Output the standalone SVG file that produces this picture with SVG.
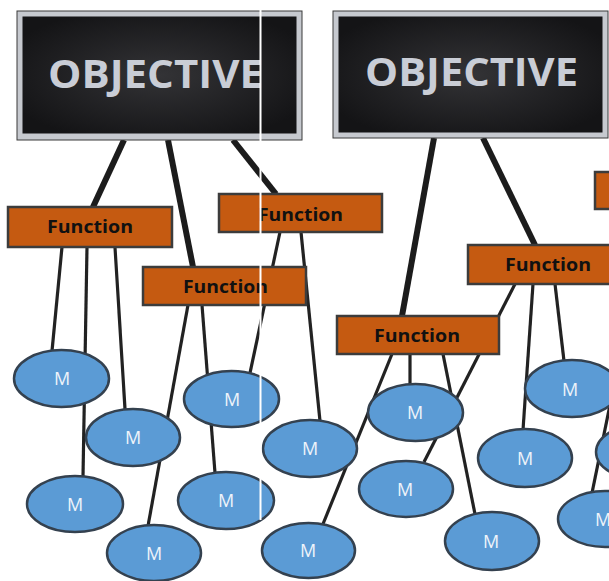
<svg xmlns="http://www.w3.org/2000/svg" width="609" height="581" viewBox="0 0 609 581">
<defs>
<radialGradient id="dark" cx="50%" cy="50%" r="60%">
<stop offset="0" stop-color="#333336"/>
<stop offset="1" stop-color="#141416"/>
</radialGradient>
<style>
.obj-outer{fill:#c6c9cf;stroke:#3a3a3a;stroke-width:1}
.obj-inner{fill:url(#dark)}
.obj-text{font-family:"Open Sans","Liberation Sans",sans-serif;font-weight:700;font-size:39px;fill:#c9cdd6;text-anchor:middle}
.fn{fill:#c55a11;stroke:#3c3c3c;stroke-width:2.5}
.fn-text{font-family:"Open Sans","Liberation Sans",sans-serif;font-weight:700;font-size:17px;fill:#111;text-anchor:middle}
.m{fill:#5b9bd5;stroke:#34414f;stroke-width:2.5}
.m-text{font-family:"Open Sans","Liberation Sans",sans-serif;font-size:18px;fill:#eef3fa;text-anchor:middle}
.thick{stroke:#1c1c1c;stroke-width:6;fill:none;stroke-linecap:butt}
.thin{stroke:#222;stroke-width:3.2;fill:none}
</style>
</defs>
<rect width="609" height="581" fill="#fff"/>
<g id="connectors">
<line class="thick" x1="124" y1="140" x2="93" y2="207"/>
<line class="thick" x1="168" y1="140" x2="193" y2="267"/>
<line class="thick" x1="233" y1="140" x2="276" y2="194"/>
<line class="thick" x1="434" y1="138" x2="402" y2="316"/>
<line class="thick" x1="483" y1="138" x2="535" y2="245"/>
<line class="thin" x1="62" y1="247" x2="52" y2="351"/>
<line class="thin" x1="87" y1="247" x2="83" y2="477"/>
<line class="thin" x1="115" y1="247" x2="125" y2="409"/>
<line class="thin" x1="188" y1="305" x2="148" y2="526"/>
<line class="thin" x1="202" y1="305" x2="215" y2="473"/>
<line class="thin" x1="280" y1="232" x2="250" y2="373"/>
<line class="thin" x1="301" y1="232" x2="320" y2="421"/>
<line class="thin" x1="392" y1="354" x2="323" y2="524"/>
<line class="thin" x1="410" y1="354" x2="410" y2="385"/>
<line class="thin" x1="443" y1="354" x2="475" y2="514"/>
<line class="thin" x1="515" y1="284" x2="424" y2="462"/>
<line class="thin" x1="533" y1="284" x2="523" y2="430"/>
<line class="thin" x1="555" y1="284" x2="564" y2="361"/>
<line class="thin" x1="612" y1="395" x2="592" y2="493"/>
</g>
<g id="objective-left">
<rect class="obj-outer" x="17" y="11" width="285" height="129"/>
<rect class="obj-inner" x="22.5" y="16.5" width="274" height="117"/>
<text class="obj-text" x="155.5" y="88" textLength="215" lengthAdjust="spacingAndGlyphs">OBJECTIVE</text>
</g>
<g id="objective-right">
<rect class="obj-outer" x="333" y="11" width="275" height="127"/>
<rect class="obj-inner" x="338.5" y="16.5" width="264" height="116"/>
<text class="obj-text" x="471.5" y="86" textLength="213" lengthAdjust="spacingAndGlyphs">OBJECTIVE</text>
</g>
<g id="function-1"><rect class="fn" x="8" y="207" width="164" height="40"/><text class="fn-text" x="90" y="233" textLength="86" lengthAdjust="spacingAndGlyphs">Function</text></g>
<g id="function-2"><rect class="fn" x="143" y="267" width="163" height="38"/><text class="fn-text" x="225.5" y="293" textLength="85" lengthAdjust="spacingAndGlyphs">Function</text></g>
<g id="function-3"><rect class="fn" x="219" y="194" width="163" height="38"/><text class="fn-text" x="300.5" y="221" textLength="85" lengthAdjust="spacingAndGlyphs">Function</text></g>
<g id="function-4"><rect class="fn" x="468" y="245" width="150" height="39"/><text class="fn-text" x="548" y="271" textLength="86" lengthAdjust="spacingAndGlyphs">Function</text></g>
<g id="function-5"><rect class="fn" x="337" y="316" width="162" height="38"/><text class="fn-text" x="417" y="342" textLength="86" lengthAdjust="spacingAndGlyphs">Function</text></g>
<g id="function-6"><rect class="fn" x="595" y="172" width="20" height="37"/></g>
<g id="m-1"><ellipse class="m" cx="61.5" cy="378.5" rx="47.5" ry="28.5"/><text class="m-text" x="62" y="385">M</text></g>
<g id="m-2"><ellipse class="m" cx="133" cy="437.5" rx="47" ry="28.5"/><text class="m-text" x="133" y="444">M</text></g>
<g id="m-3"><ellipse class="m" cx="231.5" cy="399" rx="47.5" ry="28"/><text class="m-text" x="232" y="406">M</text></g>
<g id="m-4"><ellipse class="m" cx="75" cy="504" rx="48" ry="28"/><text class="m-text" x="75" y="511">M</text></g>
<g id="m-5"><ellipse class="m" cx="226" cy="500.5" rx="48" ry="28.5"/><text class="m-text" x="226" y="507">M</text></g>
<g id="m-6"><ellipse class="m" cx="154" cy="553" rx="47" ry="28"/><text class="m-text" x="154" y="560">M</text></g>
<g id="m-7"><ellipse class="m" cx="310" cy="448.5" rx="47" ry="28.5"/><text class="m-text" x="310" y="455">M</text></g>
<g id="m-8"><ellipse class="m" cx="308.5" cy="550.5" rx="46.5" ry="27.5"/><text class="m-text" x="308" y="557">M</text></g>
<g id="m-9"><ellipse class="m" cx="415.5" cy="412.5" rx="47.5" ry="28.5"/><text class="m-text" x="415" y="419">M</text></g>
<g id="m-10"><ellipse class="m" cx="406" cy="489" rx="47" ry="28"/><text class="m-text" x="405" y="496">M</text></g>
<g id="m-11"><ellipse class="m" cx="492" cy="541" rx="47" ry="29"/><text class="m-text" x="491" y="548">M</text></g>
<g id="m-12"><ellipse class="m" cx="525" cy="458" rx="47" ry="29"/><text class="m-text" x="525" y="465">M</text></g>
<g id="m-13"><ellipse class="m" cx="572" cy="388.5" rx="47" ry="28.5"/><text class="m-text" x="570" y="396">M</text></g>
<g id="m-14"><ellipse class="m" cx="643" cy="452" rx="47" ry="28"/></g>
<g id="m-15"><ellipse class="m" cx="605" cy="519" rx="47" ry="28"/><text class="m-text" x="603" y="526">M</text></g>
<line x1="260.5" y1="0" x2="260.5" y2="520" stroke="#fff" stroke-width="2"/>
</svg>
